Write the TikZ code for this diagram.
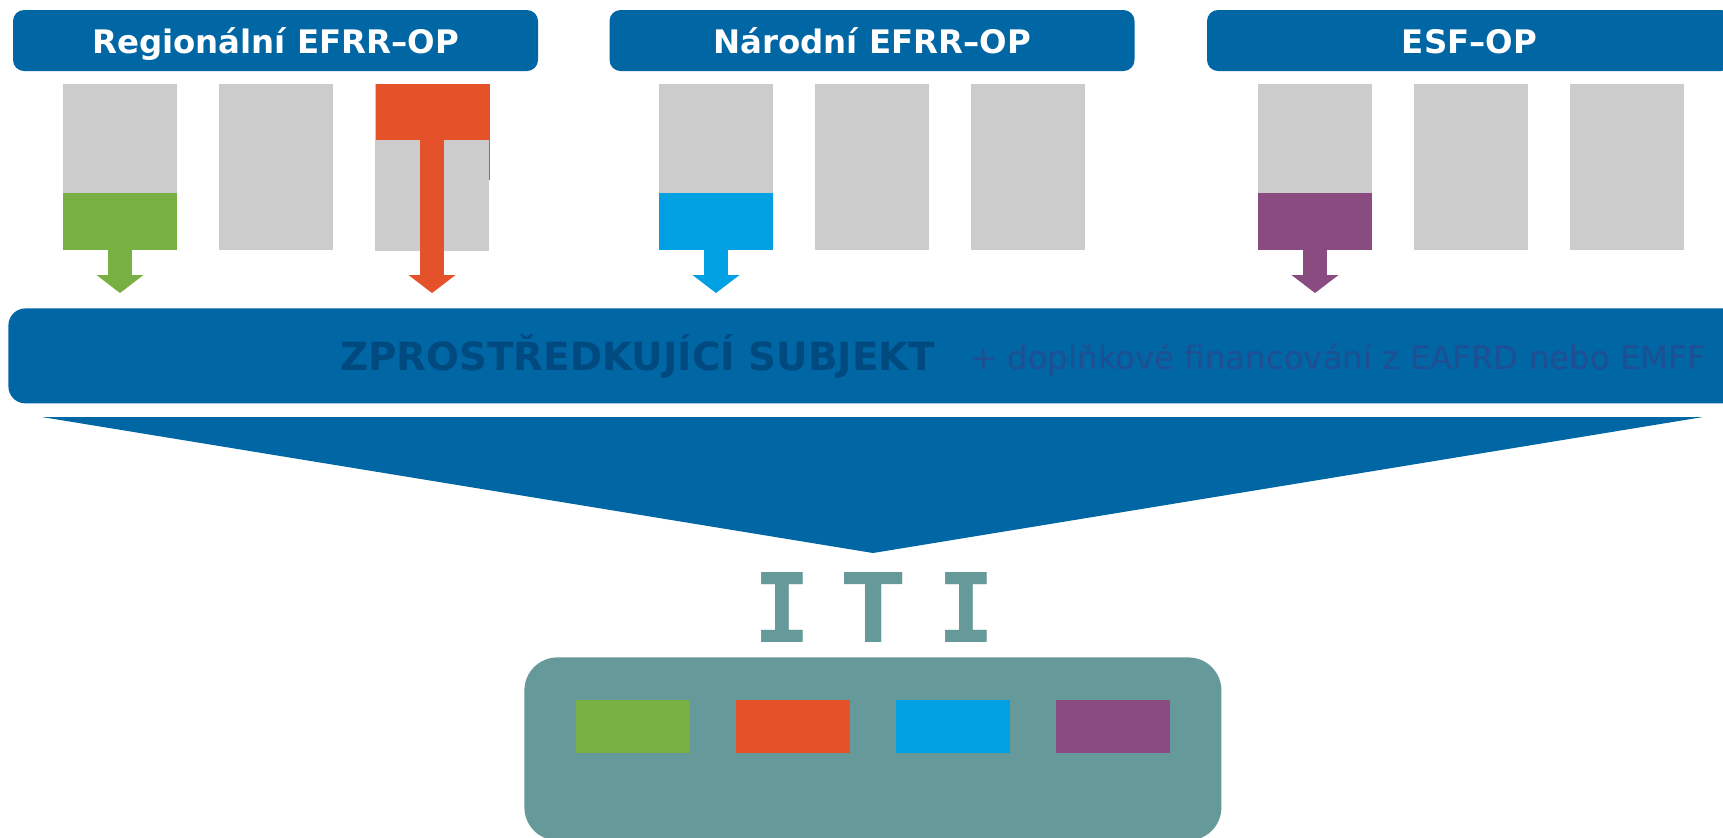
\documentclass[tikz,border=0pt]{standalone}
\usepackage{fontspec}
\setmainfont{DejaVu Sans}
\newfontfamily\itifont{DejaVu Sans Mono}
\usetikzlibrary{positioning,arrows.meta}

\definecolor{opblue}{HTML}{0066A4}
\definecolor{opgray}{HTML}{CCCCCC}
\definecolor{opgreen}{HTML}{79B043}
\definecolor{opred}{HTML}{E55129}
\definecolor{opcyan}{HTML}{00A0E3}
\definecolor{oppurple}{HTML}{8A4C80}
\definecolor{ititeal}{HTML}{669999}
\definecolor{zsdark}{HTML}{004A80}
\definecolor{zslight}{HTML}{1F4F92}

\tikzset{
  header/.style={fill=opblue, rounded corners=5.5pt, minimum width=262.5pt,
    minimum height=30.5pt, inner sep=0pt, text=white, text height=12.5pt,
    text depth=0pt, font=\bfseries\fontsize{16.2}{18}\selectfont},
  graybox/.style={fill=opgray, minimum width=57pt, minimum height=83pt,
    inner sep=0pt, outer sep=0pt},
  fundpart/.style={minimum width=57pt, minimum height=28.5pt, inner sep=0pt,
    outer sep=0pt, anchor=south},
  fundbox/.style={minimum width=57pt, minimum height=26.5pt, inner sep=0pt,
    outer sep=0pt},
  fundarrow/.style={draw=#1, line width=12pt, shorten >=7.5pt,
    -{Triangle[width=23.5pt, length=9pt, line width=0pt, fill=#1]}}
}

\begin{document}
\begin{tikzpicture}[x=0.5pt, y=-0.5pt]
  \useasboundingbox (0,0) rectangle (1723,837);
  \clip (0,0) rectangle (1723,837);

  % operational programmes
  \node[header] (regop) at (275.5,40.5) {Regionální EFRR–OP};
  \node[header] (narop) at (872,40.5) {Národní EFRR–OP};
  \node[header] (esfop) at (1469.5,40.5) {ESF–OP};

  % priority axes
  \foreach \g/\x in {1/0, 2/596, 3/1195}
    \foreach \b in {1,2,3}
      \node[graybox] (box\g\b) at ({120+\x+156*(\b-1)},167) {};

  \node[fundpart, fill=opgreen] (part11) at (box11.south) {};
  \node[fundpart, fill=opcyan] (part21) at (box21.south) {};
  \node[fundpart, fill=oppurple] (part31) at (box31.south) {};

  \node[fill=opred, minimum width=57pt, minimum height=48pt, inner sep=0pt,
    outer sep=0pt, anchor=north west] (part13) at (375.5,84) {};
  \node[fill=opgray, minimum width=57pt, minimum height=55.5pt, inner sep=0pt,
    outer sep=0pt, anchor=north west] (lower13) at (375,140) {};

  % intermediate body
  \node[fill=opblue, rounded corners=8.5pt, minimum width=876pt,
    minimum height=47.5pt, inner sep=0pt, anchor=north west] (zs) at (8,308) {};
  \node[anchor=base west, text=zsdark, font=\bfseries\fontsize{19.4}{23}\selectfont]
    (zstitle) at (333,370) {ZPROSTŘEDKUJÍCÍ SUBJEKT};
  \node[anchor=base west, text=zslight, font=\fontsize{16.2}{19}\selectfont]
    (zsnote) at (963,369) {+ doplňkové financování z EAFRD nebo EMFF};

  \draw[fundarrow=opgreen] (part11.south) -- (part11.south |- zs.north);
  \draw[fundarrow=opred] (lower13.north) -- (lower13.north |- zs.north);
  \draw[fundarrow=opcyan] (part21.south) -- (part21.south |- zs.north);
  \draw[fundarrow=oppurple] (part31.south) -- (part31.south |- zs.north);

  % funnel
  \coordinate (funnelL) at (42,417);
  \coordinate (funnelR) at (1703,417);
  \coordinate (funnelT) at (873,553);
  \fill[opblue] (funnelL) -- (funnelR) -- (funnelT) -- cycle;

  % ITI
  \foreach \l/\x/\s [count=\i] in {I/782/1, T/874/1.18, I/966/1}
    \node[anchor=base, text=ititeal, inner sep=0pt, xscale=\s,
      font=\itifont\bfseries\fontsize{48}{48}\selectfont] (letter\i) at (\x,642) {\l};

  \node[fill=ititeal, rounded corners=16.5pt, minimum width=348.5pt,
    minimum height=91.5pt, inner sep=0pt, anchor=north west] (iti) at (524,657) {};
  \node[fundbox, fill=opgreen] (iti1) at (633,726.5) {};
  \node[fundbox, fill=opred, right=23pt of iti1] (iti2) {};
  \node[fundbox, fill=opcyan, right=23pt of iti2] (iti3) {};
  \node[fundbox, fill=oppurple, right=23pt of iti3] (iti4) {};
\end{tikzpicture}
\end{document}
